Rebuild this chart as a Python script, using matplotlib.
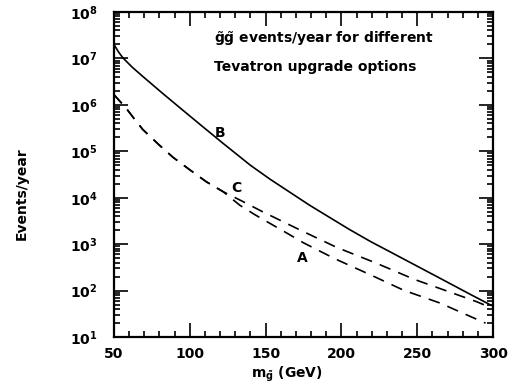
import numpy as np
import matplotlib
matplotlib.use("Agg")
import matplotlib.pyplot as plt
from matplotlib.ticker import LogLocator, MultipleLocator, FixedLocator, NullFormatter

plt.rcParams['font.family'] = 'DejaVu Sans'
plt.rcParams['font.weight'] = 'bold'
plt.rcParams['axes.labelweight'] = 'bold'
plt.rcParams['mathtext.default'] = 'bf'

# gluino pair events per year vs gluino mass (GeV)
mass_b = [50, 53, 56, 62, 69, 82, 96, 109, 122, 140, 153, 179, 205, 219,
          241, 263, 285, 300]
events_b = [2.0e7, 1.38e7, 1.02e7, 6.5e6, 4.1e6, 1.78e6, 7.4e5, 3.3e5,
            1.48e5, 5.0e4, 2.5e4, 6.9e3, 2.1e3, 1.15e3, 480, 200, 83, 46]

# options A and C coincide at low mass
mass_ac = [50, 58, 63, 69, 80, 89, 100, 111, 122]
events_ac = [1.66e6, 8.5e5, 5.2e5, 2.95e5, 1.35e5, 7.4e4, 4.0e4, 2.2e4, 1.35e4]

mass_c = [135, 148, 173, 197, 223, 248, 274, 289, 295]
events_c = [8.3e3, 5.0e3, 2.0e3, 850, 390, 175, 87, 58, 48]

mass_a = [133, 143, 165, 175, 196, 219, 241, 265, 287, 295]
events_a = [6.9e3, 4.3e3, 1.66e3, 1.07e3, 480, 220, 102, 54, 26, 20]

decades = [1, 2, 3, 4, 5, 6, 7, 8]
x_major = [50, 100, 150, 200, 250, 300]

fig = plt.figure(figsize=(5.11, 3.87), dpi=100)
ax = fig.add_axes([0.223, 0.129, 0.742, 0.840])

ax.plot(mass_b, events_b, color='black', lw=1.2)
ax.plot(mass_ac + mass_c, events_ac + events_c, color='black', lw=1.2,
        dashes=(7, 5))
ax.plot(mass_ac + mass_a, events_ac + events_a, color='black', lw=1.2,
        dashes=(7, 5))

ax.text(120, 2.5e5, 'B', fontsize=10, ha='center', va='center')
ax.text(131, 1.6e4, 'C', fontsize=10, ha='center', va='center')
ax.text(174, 500, 'A', fontsize=10, ha='center', va='center')

ax.text(0.265, 0.917, r'$\tilde{g}\tilde{g}$ events/year for different',
        transform=ax.transAxes, fontsize=10, va='center')
ax.text(0.265, 0.831, 'Tevatron upgrade options',
        transform=ax.transAxes, fontsize=10, va='center')

ax.set_yscale('log')
ax.set_xlim(50, 300)
ax.set_ylim(10, 1e8)

ax.xaxis.set_major_locator(FixedLocator(x_major))
ax.xaxis.set_minor_locator(MultipleLocator(10))
ax.yaxis.set_major_locator(FixedLocator([10.0 ** d for d in decades]))
ax.yaxis.set_minor_locator(LogLocator(base=10, subs=np.arange(2, 10)))
ax.yaxis.set_minor_formatter(NullFormatter())
ax.set_xticklabels([str(v) for v in x_major])
ax.set_yticklabels([rf'$10^{{{d}}}$' for d in decades])

ax.tick_params(which='both', direction='in', top=True, right=True,
               labelsize=10, width=1.2)
ax.tick_params(which='major', length=10)
ax.tick_params(which='minor', length=4)
ax.tick_params(axis='y', pad=12)
ax.tick_params(axis='x', pad=7)
for s in ax.spines.values():
    s.set_linewidth(1.6)

ax.set_xlabel(r'$m_{\tilde{g}}$ (GeV)', fontsize=10)
ax.xaxis.set_label_coords(0.455, -0.085)
ax.set_ylabel('Events/year', fontsize=10)
ax.yaxis.set_label_coords(-0.225, 0.44)

fig.savefig('out.png', dpi=100)
